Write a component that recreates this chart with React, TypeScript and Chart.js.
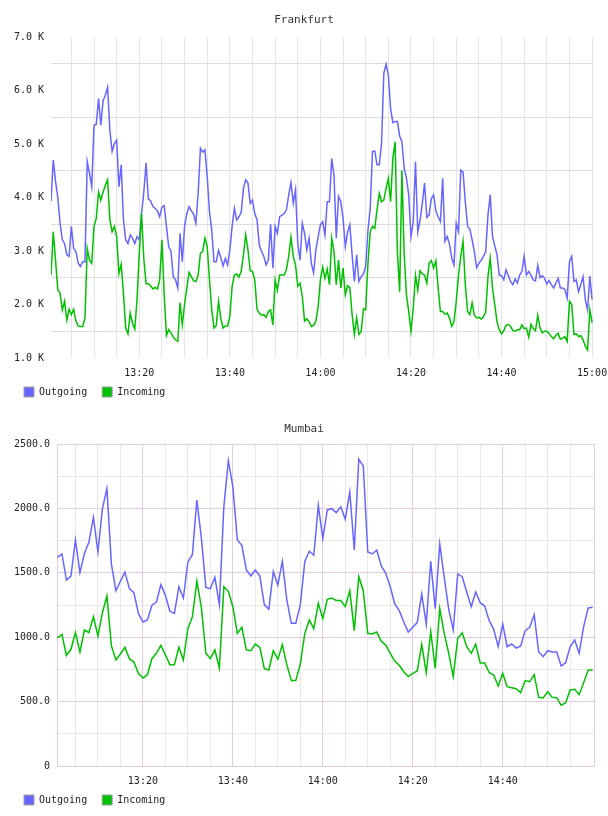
import React, { useEffect, useRef } from 'react';
import { Chart, registerables } from 'chart.js';

Chart.register(...registerables);
Chart.defaults.font.family = "'DejaVu Sans Mono', monospace";

// ---------- Frankfurt (samples every 30 s, time in minutes after midnight) ----------
const FRA_START = 780.5; // 13:00:30
const FRA_STEP = 0.5;
const FRA_OUT = [
  3930, 4700, 4300, 4000, 3520, 3210, 3140, 2930, 2900, 3460,
  3050, 2990, 2770, 2710, 2800, 2800, 4670, 4450, 4200, 5350,
  5370, 5850, 5350, 5810, 5910, 6060, 5260, 4860, 5010, 5070,
  4200, 4610, 3580, 3210, 3140, 3300, 3240, 3140, 3270, 3210,
  3700, 4100, 4650, 3970, 3940, 3830, 3800, 3750, 3640, 3820,
  3850, 3460, 3080, 2990, 2520, 2460, 2310, 3330, 2800, 3460,
  3700, 3830, 3750, 3690, 3520, 4080, 4920, 4850, 4890, 4390,
  3730, 3390, 2800, 2800, 3010, 2880, 2720, 2860, 2740, 3020,
  3460, 3800, 3580, 3640, 3720, 4170, 4330, 4270, 3890, 3950,
  3700, 3580, 3110, 2990, 2900, 2740, 2830, 3500, 2680, 3460,
  3330, 3640, 3670, 3700, 3770, 4050, 4280, 3890, 4140, 3140,
  2830, 3520, 3330, 3020, 3240, 2770, 2590, 3020, 3270, 3490,
  3550, 3300, 3920, 3920, 4730, 4420, 3240, 4020, 3920, 3610,
  3080, 3350, 3490, 2930, 2430, 2930, 2430, 2520, 2570, 2710,
  3390, 3800, 4860, 4870, 4610, 4610, 5010, 6320, 6490, 6290,
  5660, 5400, 5420, 5420, 5150, 5040, 4550, 4360, 4050, 3270,
  3550, 4670, 3360, 3570, 3890, 4270, 3630, 3670, 3980, 4050,
  3750, 3640, 3550, 4360, 3180, 3270, 3130, 2870, 2740, 3520,
  3360, 4510, 4480, 3920, 3460, 3410, 3210, 2990, 2690, 2770,
  2830, 2900, 2990, 3670, 4050, 3270, 3100, 2930, 2550, 2540,
  2460, 2650, 2540, 2430, 2370, 2480, 2400, 2550, 2620, 2900,
  2550, 2620, 2550, 2460, 2440, 2730, 2500, 2540, 2490, 2380,
  2450, 2370, 2310, 2400, 2490, 2310, 2310, 2280, 2120, 2800,
  2900, 2430, 2460, 2240, 2370, 2520, 2090, 1900, 2530, 2090,
];
const FRA_IN = [
  2550, 3360, 2830, 2280, 2210, 1900, 2060, 1710, 1910, 1810,
  1910, 1690, 1600, 1590, 1590, 1750, 3050, 2830, 2770, 3460,
  3610, 4100, 3950, 4100, 4230, 4330, 3580, 3360, 3460, 3270,
  2580, 2750, 2210, 1560, 1450, 1840, 1650, 1540, 2090, 2960,
  3700, 2850, 2390, 2390, 2350, 2290, 2320, 2290, 2460, 3210,
  2180, 1420, 1530, 1470, 1390, 1340, 1310, 2030, 1620, 2000,
  2310, 2600, 2520, 2440, 2430, 2550, 2960, 2990, 3240, 3080,
  2460, 1900, 1560, 1610, 2060, 1740, 1560, 1600, 1600, 1780,
  2340, 2550, 2570, 2510, 2620, 2930, 3300, 3020, 2630, 2620,
  2460, 1910, 1840, 1800, 1810, 1760, 1870, 1900, 1620, 2460,
  2270, 2550, 2550, 2550, 2660, 2900, 3260, 2900, 2740, 2340,
  2400, 2150, 1690, 1730, 1680, 1590, 1610, 1690, 1960, 2460,
  2700, 2490, 2660, 2370, 3240, 2990, 2370, 2830, 2310, 2680,
  2180, 2350, 2320, 1810, 1440, 1750, 1440, 1490, 1920, 1900,
  2770, 3360, 3460, 3420, 3770, 4080, 3920, 3950, 4170, 4360,
  3920, 4730, 5040, 2990, 2240, 4510, 2930, 2180, 1870, 1500,
  1930, 2550, 2270, 2630, 2570, 2550, 2400, 2770, 2820, 2680,
  2820, 2310, 1870, 1870, 1820, 1840, 1750, 1590, 1680, 2060,
  2550, 2900, 3180, 2370, 1870, 1810, 2030, 1800, 1750, 1760,
  1730, 1770, 1860, 2520, 2860, 2310, 2000, 1680, 1530, 1450,
  1510, 1610, 1630, 1590, 1510, 1500, 1530, 1530, 1620, 1550,
  1560, 1390, 1630, 1550, 1510, 1800, 1560, 1470, 1500, 1500,
  1460, 1400, 1360, 1420, 1460, 1350, 1370, 1400, 1310, 2060,
  2000, 1440, 1450, 1400, 1420, 1340, 1220, 1150, 1900, 1660,
];
const FRA_X_MIN = 780.5;
const FRA_X_MAX = 900.2;
const FRA_X_TICKS = [785, 790, 795, 800, 805, 810, 815, 820, 825, 830, 835, 840, 845, 850, 855, 860, 865, 870, 875, 880, 885, 890, 895, 900];
const FRA_X_LABELED = [800, 820, 840, 860, 880, 900];
const FRA_Y_TICKS = [1000, 1500, 2000, 2500, 3000, 3500, 4000, 4500, 5000, 5500, 6000, 6500, 7000];
const FRA_Y_LABELED = [1000, 2000, 3000, 4000, 5000, 6000, 7000];

// ---------- Mumbai (samples every minute) ----------
const MUM_START = 781; // 13:01
const MUM_STEP = 1;
const MUM_OUT = [
  1620, 1646, 1444, 1475, 1755, 1501, 1651, 1739, 1931, 1661,
  1998, 2153, 1568, 1361, 1434, 1506, 1377, 1346, 1185, 1118,
  1134, 1248, 1273, 1408, 1325, 1201, 1185, 1392, 1304, 1584,
  1641, 2065, 1770, 1387, 1377, 1465, 1253, 2013, 2370, 2169,
  1755, 1713, 1522, 1475, 1522, 1475, 1253, 1216, 1511, 1403,
  1589, 1289, 1108, 1108, 1253, 1589, 1667, 1636, 2024, 1765,
  1988, 1998, 1967, 2013, 1915, 2127, 1677, 2381, 2329, 1661,
  1646, 1677, 1553, 1496, 1392, 1258, 1206, 1118, 1040, 1077,
  1113, 1335, 1102, 1589, 1221, 1724, 1465, 1216, 1056, 1491,
  1470, 1351, 1237, 1351, 1268, 1242, 1128, 1061, 926, 1102,
  926, 947, 916, 932, 1051, 1077, 1175, 885, 849, 895,
  885, 885, 776, 802, 926, 978, 875, 1082, 1227, 1232,
];
const MUM_IN = [
  994, 1020, 859, 906, 1035, 885, 1056, 1035, 1159, 1009,
  1190, 1320, 932, 823, 870, 921, 833, 807, 720, 683,
  709, 833, 875, 937, 864, 787, 787, 921, 823, 1066,
  1159, 1434, 1232, 875, 833, 901, 761, 1392, 1356, 1237,
  1030, 1077, 901, 895, 947, 921, 756, 745, 895, 828,
  942, 787, 663, 663, 792, 1030, 1134, 1066, 1263, 1144,
  1294, 1304, 1284, 1284, 1237, 1361, 1051, 1470, 1361, 1030,
  1025, 1040, 968, 939, 875, 815, 782, 732, 694, 719,
  738, 945, 725, 1043, 758, 1224, 1030, 875, 694, 991,
  1035, 926, 875, 945, 800, 800, 725, 707, 621, 719,
  616, 608, 600, 569, 663, 655, 709, 533, 528, 577,
  533, 530, 471, 492, 590, 595, 554, 647, 745, 745,
];
const MUM_X_MIN = 780.9;
const MUM_X_MAX = 900.3;
const MUM_X_TICKS = [785, 790, 795, 800, 805, 810, 815, 820, 825, 830, 835, 840, 845, 850, 855, 860, 865, 870, 875, 880, 885, 890, 895];
const MUM_X_LABELED = [800, 820, 840, 860, 880];
const MUM_Y_TICKS = [0, 250, 500, 750, 1000, 1250, 1500, 1750, 2000, 2250, 2500];
const MUM_Y_LABELED = [0, 500, 1000, 1500, 2000, 2500];

const SERIES_LABELS = ['Outgoing', 'Incoming'];
const BLUE = '#6666ff';
const GREEN = '#00c000';
const TEXT = '#222222';

const hhmm = (v: number) => {
  const h = Math.floor(v / 60);
  const m = Math.round(v - h * 60);
  return `${h}:${String(m).padStart(2, '0')}`;
};

// The x axis box is kept short so the legend sits right under it; let its
// labels draw past that box instead of being clipped.
const labelRoom = {
  id: 'labelRoom',
  afterLayout(chart: any) {
    const s = chart.scales.x;
    s.bottom = s.top + 26;
  },
};

type Opts = {
  title: string;
  titlePad: { top: number; bottom: number };
  start: number;
  step: number;
  out: number[];
  inc: number[];
  xMin: number;
  xMax: number;
  xTicks: number[];
  xLabeled: number[];
  yMin: number;
  yMax: number;
  yTicks: number[];
  yLabeled: number[];
  yFmt: (v: number) => string;
  yWidth: number;
  rightWidth: number;
  gridX: (v: number) => string;
  gridY: (v: number) => string;
  border: string | null;
};

function buildConfig(o: Opts): any {
  const toPts = (arr: number[]) => arr.map((v, i) => ({ x: o.start + i * o.step, y: v }));
  return {
    type: 'line',
    data: {
      datasets: [
        {
          label: SERIES_LABELS[0],
          data: toPts(o.out),
          borderColor: BLUE,
          backgroundColor: BLUE,
          borderWidth: 1.5,
          pointRadius: 0,
          tension: 0,
          fill: false,
          order: 2,
          xAxisID: 'x',
          yAxisID: 'y',
        },
        {
          label: SERIES_LABELS[1],
          data: toPts(o.inc),
          borderColor: GREEN,
          backgroundColor: GREEN,
          borderWidth: 1.5,
          pointRadius: 0,
          tension: 0,
          fill: false,
          order: 1,
          xAxisID: 'x',
          yAxisID: 'y',
        },
      ],
    },
    plugins: [labelRoom],
    options: {
      responsive: false,
      animation: false,
      events: [],
      layout: { padding: { left: 9, right: 9, top: 0, bottom: 0 } },
      scales: {
        x: {
          type: 'linear',
          position: 'bottom',
          min: o.xMin,
          max: o.xMax,
          afterBuildTicks: (s: any) => {
            s.ticks = o.xTicks.map((v) => ({ value: v }));
          },
          afterFit: (s: any) => {
            s.height = 14;
            s.paddingLeft = 0;
            s.paddingRight = 0;
          },
          ticks: {
            autoSkip: false,
            maxRotation: 0,
            minRotation: 0,
            padding: 9,
            color: TEXT,
            font: { size: 10 },
            callback: (v: number) => (o.xLabeled.includes(v) ? hhmm(v) : ''),
          },
          grid: { drawTicks: false, lineWidth: 1, color: (c: any) => o.gridX(c.tick.value) },
          border: { display: !!o.border, color: o.border || 'rgba(0,0,0,0)' },
        },
        y: {
          type: 'linear',
          position: 'left',
          min: o.yMin,
          max: o.yMax,
          afterBuildTicks: (s: any) => {
            s.ticks = o.yTicks.map((v) => ({ value: v }));
          },
          afterFit: (s: any) => {
            s.width = o.yWidth;
            s.paddingTop = 0;
            s.paddingBottom = 0;
          },
          ticks: {
            autoSkip: false,
            padding: 7,
            color: TEXT,
            font: { size: 10 },
            callback: (v: number) => (o.yLabeled.includes(v) ? o.yFmt(v) : ''),
          },
          grid: { drawTicks: false, lineWidth: 1, color: (c: any) => o.gridY(c.tick.value) },
          border: { display: !!o.border, color: o.border || 'rgba(0,0,0,0)' },
        },
        yr: {
          type: 'linear',
          position: 'right',
          display: true,
          ticks: { display: false },
          grid: { display: false },
          border: { display: false },
          afterFit: (s: any) => {
            s.width = o.rightWidth;
            s.paddingTop = 0;
            s.paddingBottom = 0;
          },
        },
      },
      plugins: {
        tooltip: { enabled: false },
        title: {
          display: true,
          text: o.title,
          color: '#333333',
          font: { size: 11, weight: 'normal', lineHeight: 1 },
          padding: o.titlePad,
        },
        legend: {
          display: true,
          position: 'bottom',
          align: 'start',
          labels: {
            boxWidth: 10,
            boxHeight: 10,
            padding: 15,
            color: TEXT,
            font: { size: 10 },
            sort: (a: any, b: any) => a.datasetIndex - b.datasetIndex,
            generateLabels: (chart: any) =>
              chart.data.datasets.map((ds: any, i: number) => ({
                text: ds.label,
                fillStyle: ds.borderColor,
                strokeStyle: '#a0a0a0',
                lineWidth: 1,
                hidden: false,
                datasetIndex: i,
                fontColor: TEXT,
              })),
          },
        },
      },
    },
  };
}

const frankfurtConfig = () =>
  buildConfig({
    title: 'Frankfurt',
    titlePad: { top: 15, bottom: 11 },
    start: FRA_START,
    step: FRA_STEP,
    out: FRA_OUT,
    inc: FRA_IN,
    xMin: FRA_X_MIN,
    xMax: FRA_X_MAX,
    xTicks: FRA_X_TICKS,
    xLabeled: FRA_X_LABELED,
    yMin: 1000,
    yMax: 7000,
    yTicks: FRA_Y_TICKS,
    yLabeled: FRA_Y_LABELED,
    yFmt: (v) => `${(v / 1000).toFixed(1)} K`,
    yWidth: 42,
    rightWidth: 6,
    gridX: () => '#e6e6e6',
    gridY: (v) => (FRA_Y_LABELED.includes(v) ? 'rgba(0,0,0,0)' : '#dcdcdc'),
    border: null,
  });

const PINK = '#e2cae2';
const MINOR = '#e8e8e8';

const mumbaiConfig = () =>
  buildConfig({
    title: 'Mumbai',
    titlePad: { top: 15.5, bottom: 9.5 },
    start: MUM_START,
    step: MUM_STEP,
    out: MUM_OUT,
    inc: MUM_IN,
    xMin: MUM_X_MIN,
    xMax: MUM_X_MAX,
    xTicks: [...MUM_X_TICKS, MUM_X_MAX],
    xLabeled: MUM_X_LABELED,
    yMin: 0,
    yMax: 2500,
    yTicks: MUM_Y_TICKS,
    yLabeled: MUM_Y_LABELED,
    yFmt: (v) => (v === 0 ? '0' : v.toFixed(1)),
    yWidth: 48,
    rightWidth: 5,
    gridX: (v) => (MUM_X_LABELED.includes(v) || v === MUM_X_MAX ? PINK : MINOR),
    gridY: (v) => (MUM_Y_LABELED.includes(v) ? PINK : MINOR),
    border: PINK,
  });

function ChartCanvas({ make, top }: { make: () => any; top: number }) {
  const ref = useRef<HTMLCanvasElement | null>(null);
  useEffect(() => {
    if (!ref.current) return;
    const chart = new Chart(ref.current, make());
    return () => chart.destroy();
  }, [make]);
  return (
    <canvas
      ref={ref}
      width={608}
      height={407}
      style={{ position: 'absolute', left: 0, top, width: 608, height: 407, display: 'block' }}
    />
  );
}

export default function App() {
  return (
    <div style={{ position: 'absolute', left: 0, top: 0, width: 608, height: 816, background: '#ffffff', overflow: 'hidden' }}>
      <ChartCanvas make={frankfurtConfig} top={0} />
      <ChartCanvas make={mumbaiConfig} top={408} />
    </div>
  );
}
